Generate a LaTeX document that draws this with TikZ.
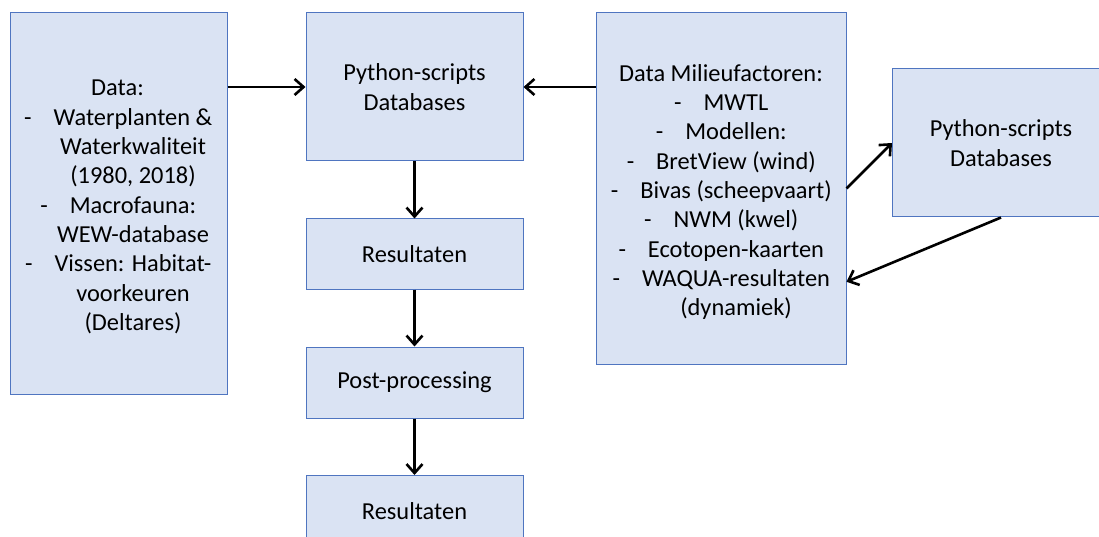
\documentclass[tikz,border=0pt]{standalone}
\usepackage{fontspec}
\setmainfont{Carlito}
\usetikzlibrary{arrows.meta,calc}
\definecolor{boxfill}{HTML}{DAE3F3}
\definecolor{boxline}{HTML}{4F75C0}
\tikzset{
  flowbox/.style={draw=boxline, fill=boxfill, line width=1pt, rectangle,
    inner sep=0pt, minimum width=217pt, align=center,
    font=\fontsize{24.4pt}{29.3pt}\selectfont},
  boxtext/.style={inner sep=0pt, align=center,
    font=\fontsize{24.4pt}{29.3pt}\selectfont},
  flowarrow/.style={draw=black, line width=2.6pt,
    -{Straight Barb[length=9pt,width=16pt,line width=2.6pt]}}
}
\newcommand{\dashitem}[1][22pt]{\llap{-\hspace{#1}}}
\begin{document}
\begin{tikzpicture}[x=1pt,y=-1pt]
  \useasboundingbox (0,0) rectangle (1099,537);
  \clip (0,0) rectangle (1099,537);

  % input data box (left)
  \node[flowbox, minimum height=381pt] (data) at (118.5,203.5) {};
  \node[boxtext] (datatext) at (133,207) {%
    \hspace*{-31pt}Data:\\
    \dashitem Waterplanten \&\\
    Waterkwaliteit\\
    (1980, 2018)\\
    \dashitem Macrofauna:\\
    WEW-database\\
    \dashitem Vissen: Habitat-\\
    voorkeuren\\
    (Deltares)};

  % central processing chain
  \node[flowbox, minimum height=148pt] (scripts) at (414.5,87)
    {Python-scripts\\Databases};
  \node[flowbox, minimum height=70pt] (res1) at (414.5,254) {Resultaten};
  \node[flowbox, minimum height=71pt] (post) at (414.5,382.5) {Post-processing};
  \node[flowbox, minimum height=71pt] (res2) at (414.5,511) {Resultaten};

  % environmental factors box (right)
  \node[flowbox, minimum width=250pt, minimum height=351pt] (milieu) at (721,188.5) {};
  \node[boxtext] (milieutext) at (736,192) {%
    \hspace*{-30pt}Data Milieufactoren:\\
    \dashitem MWTL\\
    \dashitem Modellen:\\
    \dashitem BretView (wind)\\
    \dashitem Bivas (scheepvaart)\\
    \dashitem NWM (kwel)\\
    \dashitem Ecotopen-kaarten\\
    \dashitem WAQUA-resultaten\\
    (dynamiek)};

  % secondary scripts box (far right)
  \node[flowbox, minimum height=148pt] (scripts2) at (1001,143)
    {Python-scripts\\Databases};

  % connectors
  \draw[flowarrow] (data.east |- scripts.west) -- (scripts.west);
  \draw[flowarrow] (milieu.west |- scripts.east) -- (scripts.east);
  \draw[flowarrow] (scripts.south) -- (res1.north);
  \draw[flowarrow] (res1.south) -- (post.north);
  \draw[flowarrow] (post.south) -- (res2.north);
  \draw[flowarrow] (milieu.east) -- (scripts2.west);
  \coordinate (back) at ($(milieu.north east)!0.765!(milieu.south east)$);
  \draw[flowarrow] (scripts2.south) -- (back);
\end{tikzpicture}
\end{document}
